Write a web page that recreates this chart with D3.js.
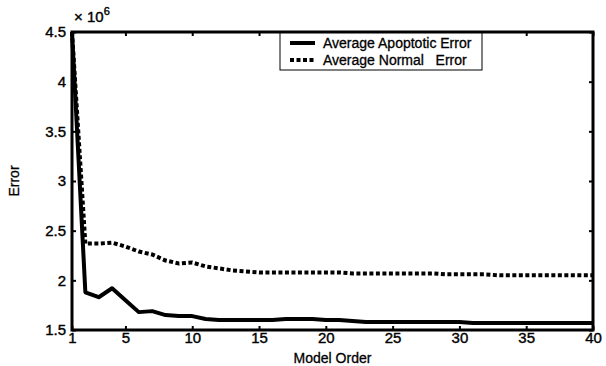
<!DOCTYPE html>
<meta charset="utf-8">
<script src="https://cdn.jsdelivr.net/npm/d3@7/dist/d3.min.js"></script>
<style>
body{margin:0;background:#fff;}
text{font-family:"Liberation Sans",Arial,sans-serif;fill:#000;}
</style>
<div id="vis"></div>
<script>
// Values (error in units of 1e6)
var order = d3.range(1, 41);
var apoptotic = [4.5, 1.88, 1.83, 1.92, 1.8, 1.68, 1.69, 1.65, 1.64, 1.64,
  1.61, 1.6, 1.6, 1.6, 1.6, 1.6, 1.61, 1.61, 1.61, 1.6,
  1.6, 1.59, 1.58, 1.58, 1.58, 1.58, 1.58, 1.58, 1.58, 1.58,
  1.57, 1.57, 1.57, 1.57, 1.57, 1.57, 1.57, 1.57, 1.57, 1.57];
var normal = [4.5, 2.37, 2.37, 2.38, 2.34, 2.29, 2.26, 2.2, 2.17, 2.18,
  2.14, 2.12, 2.1, 2.09, 2.08, 2.08, 2.08, 2.08, 2.08, 2.08,
  2.08, 2.07, 2.07, 2.07, 2.07, 2.07, 2.07, 2.07, 2.06, 2.06,
  2.06, 2.06, 2.05, 2.05, 2.05, 2.05, 2.05, 2.05, 2.05, 2.05];
var xTicks = [1, 5, 10, 15, 20, 25, 30, 35, 40];
var yTicks = [1.5, 2, 2.5, 3, 3.5, 4, 4.5];
var seriesNames = ["Average Apoptotic Error", "Average Normal\u00a0\u00a0 Error"];

var w = 606, h = 366;
var margin = {top: 32, right: 13, bottom: 36, left: 72};
var width = w - margin.left - margin.right,
    height = h - margin.top - margin.bottom;

var svg = d3.select("#vis").append("svg")
    .attr("width", w).attr("height", h);
var g = svg.append("g")
    .attr("transform", "translate(" + margin.left + "," + margin.top + ")");

var x = d3.scaleLinear().domain([1, 40]).range([0, width]);
var y = d3.scaleLinear().domain([1.5, 4.5]).range([height, 0]);

// axes with inward ticks
var fmt = function(d) { return String(d); };
g.append("g").attr("transform", "translate(0," + height + ")")
  .call(d3.axisBottom(x).tickValues(xTicks).tickSize(-4).tickPadding(2).tickFormat(fmt));
g.append("g").attr("transform", "translate(0,0)")
  .call(d3.axisTop(x).tickValues(xTicks).tickSize(-4).tickFormat(""));
g.append("g")
  .call(d3.axisLeft(y).tickValues(yTicks).tickSize(-4).tickPadding(6).tickFormat(fmt));
g.append("g").attr("transform", "translate(" + width + ",0)")
  .call(d3.axisRight(y).tickValues(yTicks).tickSize(-4).tickFormat(""));
g.selectAll(".domain").remove();
g.selectAll(".tick line").attr("stroke", "#000").attr("stroke-width", 2);
g.selectAll(".tick text").attr("font-size", 15).attr("stroke", "#000").attr("stroke-width", 0.4);

g.append("rect").attr("width", width).attr("height", height)
  .attr("fill", "none").attr("stroke", "#000").attr("stroke-width", 3);

var line = d3.line().x(function(d, i) { return x(order[i]); }).y(function(d) { return y(d); });

g.append("path").datum(apoptotic).attr("d", line)
  .attr("fill", "none").attr("stroke", "#000").attr("stroke-width", 4)
  .attr("stroke-linejoin", "round");
g.append("path").datum(normal).attr("d", line)
  .attr("fill", "none").attr("stroke", "#000").attr("stroke-width", 4)
  .attr("stroke-dasharray", "4,2.5");

// exponent
var ex = svg.append("text").attr("x", margin.left + 2).attr("y", 22)
  .attr("font-size", 15).attr("stroke", "#000").attr("stroke-width", 0.4).text("\u00d7 10");
ex.append("tspan").attr("dy", -7).attr("font-size", 11).text("6");

// axis labels
svg.append("text").attr("x", margin.left + width / 2).attr("y", 363)
  .attr("text-anchor", "middle").attr("font-size", 14).attr("stroke", "#000").attr("stroke-width", 0.3)
  .text("Model Order");
svg.append("text").attr("transform", "translate(19," + (margin.top + height / 2) + ") rotate(-90)")
  .attr("text-anchor", "middle").attr("font-size", 14).attr("stroke", "#000").attr("stroke-width", 0.3)
  .text("Error");

// legend
var lg = svg.append("g").attr("transform", "translate(280,33)");
lg.append("rect").attr("width", 202).attr("height", 37)
  .attr("fill", "#fff").attr("stroke", "#000").attr("stroke-width", 1);
seriesNames.forEach(function(name, i) {
  var yy = 10 + i * 17;
  lg.append("line").attr("x1", 10).attr("x2", 35).attr("y1", yy).attr("y2", yy)
    .attr("stroke", "#000").attr("stroke-width", 4)
    .attr("stroke-dasharray", i === 1 ? "4,2.5" : null);
  lg.append("text").attr("x", 43).attr("y", yy + 5).attr("font-size", 14)
    .attr("stroke", "#000").attr("stroke-width", 0.3)
    .attr("xml:space", "preserve").text(name);
});
</script>
